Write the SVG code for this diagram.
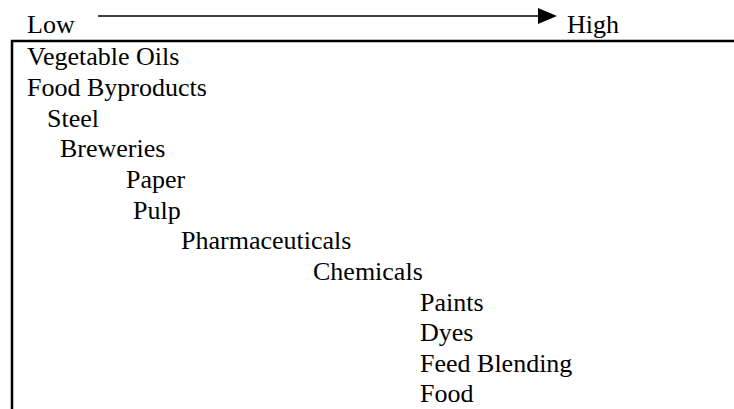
<svg xmlns="http://www.w3.org/2000/svg" width="734" height="409" viewBox="0 0 734 409">
<style>
text{font-family:'Liberation Serif',Tinos,'DejaVu Serif',serif;font-size:26px;fill:#000}
.ln{stroke:#000;fill:none}
</style>
<rect width="734" height="409" fill="#fff"/>
<g id="axis" font-family="Liberation Serif, serif">
<text x="27" y="33">Low</text>
<text x="567" y="33">High</text>
</g>
<g id="connectors">
<line class="ln" x1="98" y1="16" x2="540" y2="16" stroke-width="1.5"/>
<polygon points="538,8 557,16 538,24" fill="#000"/>
<polyline class="ln" points="734,41 12,41 12,409" stroke-width="2.5"/>
</g>
<g id="n1"><text x="27" y="65">Vegetable Oils</text></g>
<g id="n2"><text x="27" y="96">Food Byproducts</text></g>
<g id="n3"><text x="47" y="127">Steel</text></g>
<g id="n4"><text x="60" y="157">Breweries</text></g>
<g id="n5"><text x="126" y="188">Paper</text></g>
<g id="n6"><text x="133" y="219">Pulp</text></g>
<g id="n7"><text x="181" y="249">Pharmaceuticals</text></g>
<g id="n8"><text x="313" y="280">Chemicals</text></g>
<g id="n9"><text x="420" y="311">Paints</text></g>
<g id="n10"><text x="420" y="341">Dyes</text></g>
<g id="n11"><text x="420" y="372">Feed Blending</text></g>
<g id="n12"><text x="420" y="402">Food</text></g>
</svg>
